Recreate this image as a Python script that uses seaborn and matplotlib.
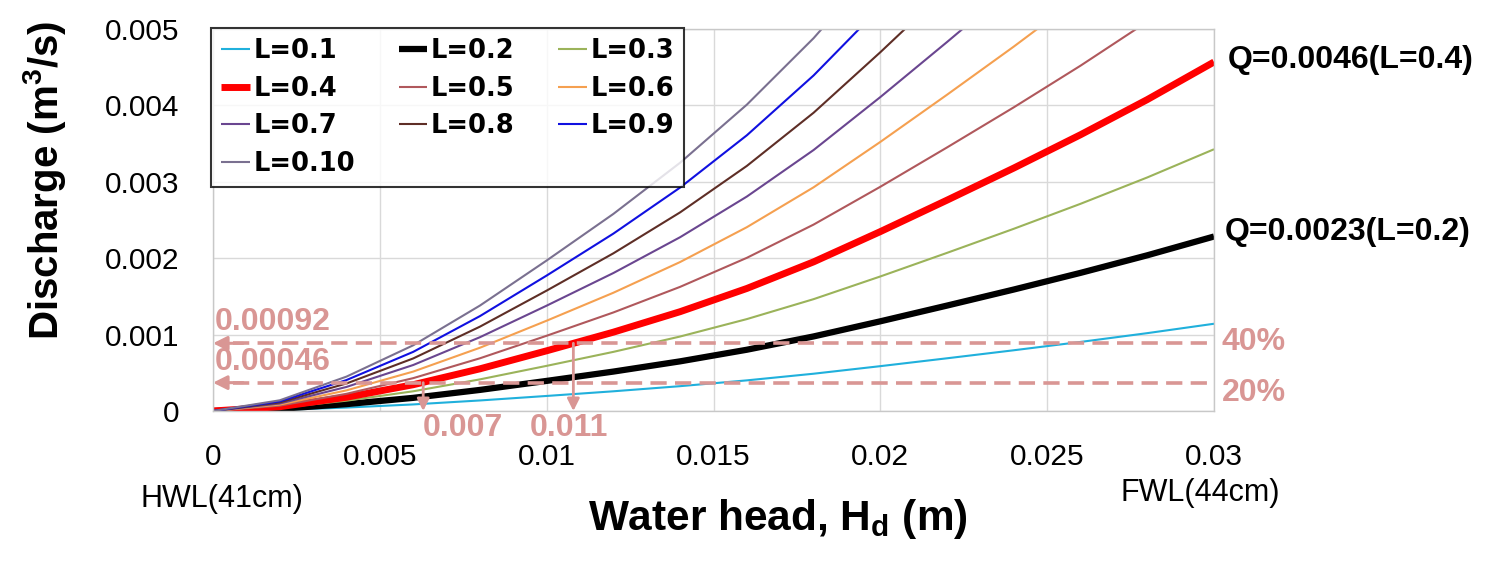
import numpy as np
import pandas as pd
import seaborn as sns
import matplotlib.pyplot as plt

# ---------------- data ----------------
H = [0.000, 0.002, 0.004, 0.006, 0.008, 0.010, 0.012, 0.014,
     0.016, 0.018, 0.020, 0.022, 0.024, 0.026, 0.028, 0.030]

labels = ["L=0.1", "L=0.2", "L=0.3", "L=0.4", "L=0.5",
          "L=0.6", "L=0.7", "L=0.8", "L=0.9", "L=0.10"]

q_01 = [0, 0.000014, 0.000045, 0.000086, 0.000138, 0.000197, 0.000258, 0.000325,
        0.000401, 0.000488, 0.000587, 0.000690, 0.000795, 0.000904, 0.001019, 0.001142]
q_02 = [0, 0.000028, 0.000090, 0.000172, 0.000276, 0.000394, 0.000516, 0.000650,
        0.000802, 0.000976, 0.001174, 0.001380, 0.001590, 0.001808, 0.002038, 0.002284]
q_03 = [0, 0.000042, 0.000135, 0.000258, 0.000414, 0.000591, 0.000774, 0.000975,
        0.001203, 0.001464, 0.001761, 0.002070, 0.002385, 0.002712, 0.003057, 0.003426]
q_04 = [0, 0.000056, 0.000180, 0.000344, 0.000552, 0.000788, 0.001032, 0.001300,
        0.001604, 0.001952, 0.002348, 0.002760, 0.003180, 0.003616, 0.004076, 0.004568]
q_05 = [0, 0.000070, 0.000225, 0.000430, 0.000690, 0.000985, 0.001290, 0.001625,
        0.002005, 0.002440, 0.002935, 0.003450, 0.003975, 0.004520, 0.005095, 0.005710]
q_06 = [0, 0.000084, 0.000270, 0.000516, 0.000828, 0.001182, 0.001548, 0.001950,
        0.002406, 0.002928, 0.003522, 0.004140, 0.004770, 0.005424, 0.006114, 0.006852]
q_07 = [0, 0.000098, 0.000315, 0.000602, 0.000966, 0.001379, 0.001806, 0.002275,
        0.002807, 0.003416, 0.004109, 0.004830, 0.005565, 0.006328, 0.007133, 0.007994]
q_08 = [0, 0.000112, 0.000360, 0.000688, 0.001104, 0.001576, 0.002064, 0.002600,
        0.003208, 0.003904, 0.004696, 0.005520, 0.006360, 0.007232, 0.008152, 0.009136]
q_09 = [0, 0.000126, 0.000405, 0.000774, 0.001242, 0.001773, 0.002322, 0.002925,
        0.003609, 0.004392, 0.005283, 0.006210, 0.007155, 0.008136, 0.009171, 0.010278]
q_10 = [0, 0.000140, 0.000450, 0.000860, 0.001380, 0.001970, 0.002580, 0.003250,
        0.004010, 0.004880, 0.005870, 0.006900, 0.007950, 0.009040, 0.010190, 0.011420]

series = [q_01, q_02, q_03, q_04, q_05, q_06, q_07, q_08, q_09, q_10]

colors = ["#20B0DC", "#000000", "#9BB35A", "#FF0000", "#B0585C",
          "#F5A050", "#6A4690", "#5E2E26", "#1010E0", "#7A7090"]
widths = [1.5, 4.5, 1.5, 5.0, 1.5, 1.5, 1.5, 1.5, 1.5, 1.5]

x_ticks = [0, 0.005, 0.01, 0.015, 0.02, 0.025, 0.03]
x_ticklabels = ["0", "0.005", "0.01", "0.015", "0.02", "0.025", "0.03"]
y_ticks = [0, 0.001, 0.002, 0.003, 0.004, 0.005]
y_ticklabels = ["0", "0.001", "0.002", "0.003", "0.004", "0.005"]

q40_level = 0.000886
q20_level = 0.000371
h_20 = 0.0063
h_40 = 0.0108

# ---------------- style ----------------
sns.set_theme(style="white")
plt.rcParams['font.family'] = ['Liberation Sans', 'DejaVu Sans']
plt.rcParams['mathtext.fontset'] = 'custom'
plt.rcParams['mathtext.bf'] = 'Liberation Sans:bold'
plt.rcParams['mathtext.rm'] = 'Liberation Sans'
plt.rcParams['text.color'] = 'black'
plt.rcParams['xtick.color'] = 'black'
plt.rcParams['ytick.color'] = 'black'
plt.rcParams['axes.labelcolor'] = 'black'

pink = "#D99694"

fig = plt.figure(figsize=(15.06, 5.66), dpi=100)
W, Hpx = 1506, 566
ax = fig.add_axes([213 / W, 1 - 411 / Hpx, 1001 / W, 382 / Hpx])

df = pd.DataFrame({"H": np.tile(H, len(labels)),
                   "Q": np.concatenate(series),
                   "series": np.repeat(labels, len(H))})

for lab, c, lw in zip(labels, colors, widths):
    sub = df[df["series"] == lab]
    sns.lineplot(data=sub, x="H", y="Q", color=c, linewidth=lw, label=lab,
                 ax=ax, sort=False, solid_capstyle="butt")

ax.set_xlim(0, 0.03)
ax.set_ylim(0, 0.005)
ax.set_xticks(x_ticks)
ax.set_xticklabels(x_ticklabels, fontsize=21.5)
ax.set_yticks(y_ticks)
ax.set_yticklabels(y_ticklabels, fontsize=21.5)
ax.tick_params(axis="x", length=0, pad=23, colors="black")
ax.tick_params(axis="y", length=0, pad=24, colors="black")
ax.grid(True, color="#D9D9D9", linewidth=1.0)
ax.set_axisbelow(True)
for s in ax.spines.values():
    s.set_color("#C8C8C8")
    s.set_linewidth(1.0)
ax.set_xlabel("")
ax.set_ylabel("")

# dashed reference lines with arrowheads
for lvl in (q40_level, q20_level):
    ax.plot([0.0006, 0.03], [lvl, lvl], color=pink, lw=2.6, ls=(0, (4.5, 2.3)), zorder=5,
            clip_on=False)
    ax.annotate("", xy=(0.0, lvl), xytext=(0.0009, lvl),
                arrowprops=dict(arrowstyle="-|>,head_length=0.7,head_width=0.35",
                                color=pink, lw=2.2, shrinkA=0, shrinkB=0), zorder=6)

for hx, lvl in ((h_20, q20_level), (h_40, q40_level)):
    ax.annotate("", xy=(hx, 0.0), xytext=(hx, lvl),
                arrowprops=dict(arrowstyle="-|>,head_length=0.6,head_width=0.3",
                                color=pink, lw=2.0, shrinkA=0, shrinkB=0), zorder=6)

bold = dict(fontsize=23, fontweight="bold")
ax.text(0.00005, 0.00116, "0.00092", color=pink, ha="left", va="center", **bold)
ax.text(0.00005, 0.00064, "0.00046", color=pink, ha="left", va="center", **bold)
ax.text(0.0063, -0.00022, "0.007", color=pink, ha="left", va="center", **bold)
ax.text(0.0095, -0.00022, "0.011", color=pink, ha="left", va="center", **bold)

fig.text(1222 / W, 1 - 342 / Hpx, "40%", color=pink, ha="left", va="center", **bold)
fig.text(1222 / W, 1 - 393 / Hpx, "20%", color=pink, ha="left", va="center", **bold)
fig.text(1228 / W, 1 - 60 / Hpx, "Q=0.0046(L=0.4)", color="black", ha="left", va="center", **bold)
fig.text(1225 / W, 1 - 232 / Hpx, "Q=0.0023(L=0.2)", color="black", ha="left", va="center", **bold)

fig.text(222 / W, 1 - 499 / Hpx, "HWL(41cm)", fontsize=22, ha="center", va="center")
fig.text(1200 / W, 1 - 493 / Hpx, "FWL(44cm)", fontsize=22, ha="center", va="center")

fig.text(778 / W, 1 - 519 / Hpx, r"Water head, H$_\mathbf{d}$ (m)", fontsize=30.5,
         fontweight="bold", ha="center", va="center")
fig.text(45 / W, 1 - 180 / Hpx, r"Discharge (m$^\mathbf{3}$/s)", fontsize=29,
         fontweight="bold", ha="center", va="center", rotation=90)

# legend (row-major order like the reference)
handles, labs = ax.get_legend_handles_labels()
order = [0, 3, 6, 9, 1, 4, 7, 2, 5, 8]
leg = ax.legend([handles[i] for i in order], [labs[i] for i in order],
                ncol=3, loc="upper left", bbox_to_anchor=(-0.002, 1.003),
                borderaxespad=0, frameon=True, fancybox=False,
                prop=dict(family="DejaVu Sans", weight="bold", size=18.5),
                handlelength=1.1, handletextpad=0.15, columnspacing=1.7,
                labelspacing=0.45, borderpad=0.4)
leg.get_frame().set_edgecolor("black")
leg.get_frame().set_linewidth(1.5)
leg.set_zorder(10)
for t in leg.get_texts():
    t.set_color("black")

fig.savefig("out.png", dpi=100)
